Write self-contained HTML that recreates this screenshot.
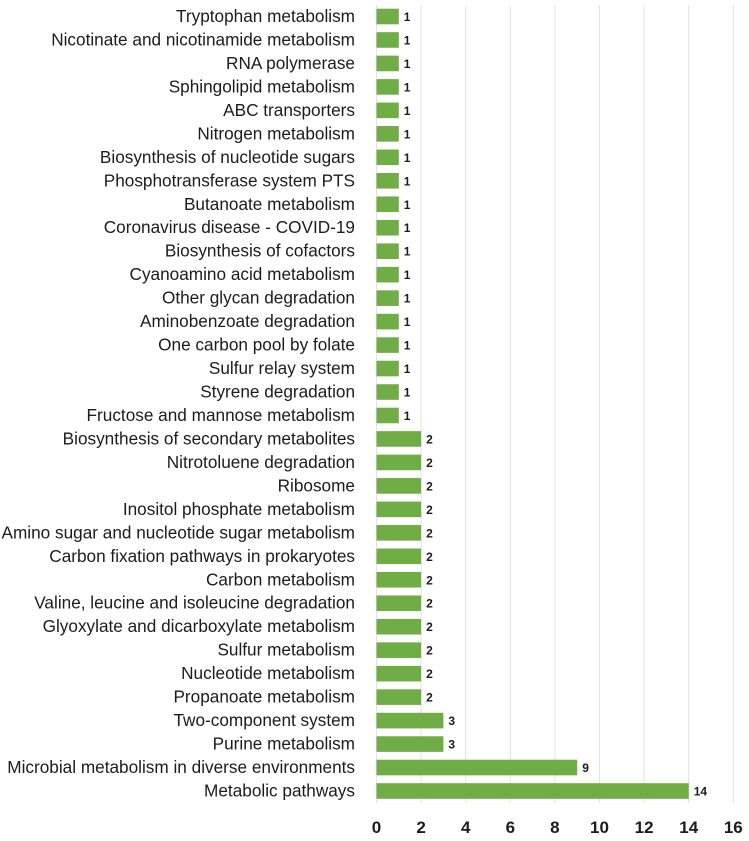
<!DOCTYPE html>
<html lang="en">
<head>
<meta charset="utf-8">
<title>Pathway counts</title>
<style>
html,body{margin:0;padding:0;background:#fff;width:749px;height:841px;overflow:hidden}
svg{display:block;filter:blur(0.3px)}
text{font-family:"Liberation Sans",sans-serif;fill:#1c1c1c}
.cat{font-size:17.2px;text-anchor:end}
.val{font-size:12px;font-weight:700}
.tick{font-size:17px;font-weight:700;text-anchor:middle}
</style>
</head>
<body>
<svg id="chart" width="749" height="841" viewBox="0 0 749 841" xmlns="http://www.w3.org/2000/svg"></svg>
<script>
const categories = ["Tryptophan metabolism","Nicotinate and nicotinamide metabolism","RNA polymerase","Sphingolipid metabolism","ABC transporters","Nitrogen metabolism","Biosynthesis of nucleotide sugars","Phosphotransferase system PTS","Butanoate metabolism","Coronavirus disease - COVID-19","Biosynthesis of cofactors","Cyanoamino acid metabolism","Other glycan degradation","Aminobenzoate degradation","One carbon pool by folate","Sulfur relay system","Styrene degradation","Fructose and mannose metabolism","Biosynthesis of secondary metabolites","Nitrotoluene degradation","Ribosome","Inositol phosphate metabolism","Amino sugar and nucleotide sugar metabolism","Carbon fixation pathways in prokaryotes","Carbon metabolism","Valine, leucine and isoleucine degradation","Glyoxylate and dicarboxylate metabolism","Sulfur metabolism","Nucleotide metabolism","Propanoate metabolism","Two-component system","Purine metabolism","Microbial metabolism in diverse environments","Metabolic pathways"];
const values = [1,1,1,1,1,1,1,1,1,1,1,1,1,1,1,1,1,1,2,2,2,2,2,2,2,2,2,2,2,2,3,3,9,14];
const xTicks = [0,2,4,6,8,10,12,14,16];

const svg = document.getElementById('chart');
const NS = 'http://www.w3.org/2000/svg';
const xScale = v => 376.5 + v * (733.3 - 376.5) / 16;
const yScale = i => 16.5 + i * (791 - 16.5) / 33;
const barHeight = 15.6;

function make(tag, attrs, text) {
  const el = document.createElementNS(NS, tag);
  for (const k in attrs) el.setAttribute(k, attrs[k]);
  if (text !== undefined) el.textContent = text;
  svg.appendChild(el);
  return el;
}

xTicks.forEach(t => {
  const g = make('line', {x1: xScale(t), x2: xScale(t), y1: 5, y2: 803, stroke: '#e2e2e2', 'stroke-width': 1});
  
  
  const l = make('text', {x: xScale(t), y: 833, class: 'tick'}, t);
  
  
});

categories.forEach((c, i) => {
  const y = yScale(i);
  const label = make('text', {x: 355, y: y + 5.5, class: 'cat'}, c);
  
  
  const bar = make('rect', {x: xScale(0), y: y - barHeight / 2, width: xScale(values[i]) - xScale(0), height: barHeight, fill: '#70ad47'});
  
  
  const val = make('text', {x: xScale(values[i]) + 5, y: y + 4.5, class: 'val'}, values[i]);
  
  
});
</script>
</body>
</html>
